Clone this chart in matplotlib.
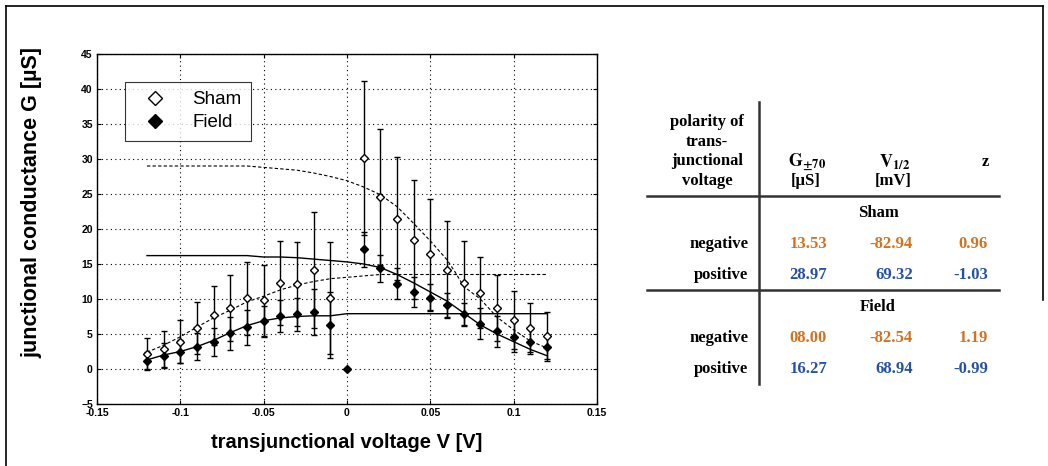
import matplotlib
matplotlib.use("Agg")
import matplotlib.pyplot as plt
from matplotlib.lines import Line2D

# measured points (transjunctional voltage in V, conductance in uS)
volts_sham = [-0.12, -0.11, -0.10, -0.09, -0.08, -0.07, -0.06, -0.05, -0.04, -0.03, -0.02, -0.01,
              0.01, 0.02, 0.03, 0.04, 0.05, 0.06, 0.07, 0.08, 0.09, 0.10, 0.11, 0.12]
g_sham = [2.1, 2.9, 3.9, 5.9, 7.7, 8.7, 10.1, 9.8, 12.3, 12.1, 14.2, 10.1,
          30.2, 24.6, 21.5, 18.5, 16.4, 14.2, 12.3, 10.9, 8.7, 7.0, 5.9, 4.7]
err_sham = [2.3, 2.6, 3.1, 3.7, 4.2, 4.7, 5.2, 5.1, 6.0, 6.0, 8.3, 8.0,
            11.0, 9.7, 8.8, 8.5, 7.9, 6.9, 6.0, 5.1, 4.7, 4.2, 3.5, 3.5]

volts_field = [-0.12, -0.11, -0.10, -0.09, -0.08, -0.07, -0.06, -0.05, -0.04, -0.03, -0.02, -0.01, 0.0,
               0.01, 0.02, 0.03, 0.04, 0.05, 0.06, 0.07, 0.08, 0.09, 0.10, 0.11, 0.12]
g_field = [1.2, 1.9, 2.5, 3.2, 3.9, 5.1, 6.0, 6.8, 7.6, 7.8, 8.2, 6.3, 0.0,
           17.1, 14.4, 12.2, 11.0, 10.2, 9.1, 7.8, 6.5, 5.4, 4.6, 3.9, 3.1]
err_field = [1.2, 1.8, 1.7, 1.9, 2.0, 2.4, 2.5, 2.2, 2.3, 2.4, 3.3, 4.7, 0.0,
             2.5, 1.9, 2.2, 2.1, 1.9, 1.7, 1.7, 2.2, 2.2, 2.2, 1.8, 1.7]

# fitted Boltzmann curves
fit_sham_neg_v = [-0.12, -0.11, -0.10, -0.09, -0.08, -0.07, -0.06, -0.05, -0.04, -0.03, -0.02, -0.01,
                  0.0, 0.01, 0.02, 0.12]
fit_sham_neg_g = [2.4, 3.4, 4.6, 6.0, 7.3, 8.4, 9.6, 10.4, 11.3, 12.0, 12.5, 12.9,
                  13.1, 13.3, 13.5, 13.5]
fit_sham_pos_v = [-0.12, -0.06, -0.05, -0.04, -0.03, -0.02, -0.01, 0.0, 0.01, 0.02, 0.03, 0.04,
                  0.05, 0.06, 0.065, 0.07, 0.08, 0.09, 0.10, 0.11, 0.12]
fit_sham_pos_g = [29.0, 29.0, 28.8, 28.6, 28.4, 28.0, 27.5, 26.9, 26.0, 24.9, 23.2, 20.8,
                  18.3, 15.6, 13.8, 11.8, 10.0, 7.4, 5.6, 4.0, 3.0]
fit_field_neg_v = [-0.12, -0.11, -0.10, -0.09, -0.08, -0.07, -0.06, -0.05, -0.04, -0.03, -0.02, -0.01,
                   0.0, 0.12]
fit_field_neg_g = [1.3, 2.0, 2.5, 3.2, 4.1, 5.2, 6.2, 6.9, 7.3, 7.5, 7.6, 7.6,
                   7.9, 7.9]
fit_field_pos_v = [-0.12, -0.06, -0.05, -0.04, -0.03, -0.02, -0.01, 0.0, 0.01, 0.02, 0.03, 0.04,
                   0.05, 0.06, 0.07, 0.08, 0.09, 0.10, 0.11, 0.12]
fit_field_pos_g = [16.2, 16.2, 16.0, 16.0, 15.9, 15.7, 15.5, 15.3, 15.0, 14.5, 13.5, 12.3,
                   11.0, 9.7, 8.0, 6.3, 5.0, 3.9, 2.8, 1.9]

# fit parameter table
table_groups = ["Sham", "Field"]
table_rows = ["negative", "positive"]
table_g = [["13.53", "28.97"], ["08.00", "16.27"]]
table_v = [["-82.94", "69.32"], ["-82.54", "68.94"]]
table_z = [["0.96", "-1.03"], ["1.19", "-0.99"]]

ORANGE = "#d4711f"
BLUE = "#2450a8"
row_colors = [ORANGE, BLUE]

plt.rcParams["font.family"] = ["Liberation Sans", "DejaVu Sans"]
plt.rcParams["mathtext.fontset"] = "stix"

W, H = 1048, 466
fig = plt.figure(figsize=(W / 100, H / 100), dpi=100)
ax = fig.add_axes([97 / W, 1 - 404 / H, 500 / W, 350 / H])

ax.plot(fit_sham_neg_v, fit_sham_neg_g, color="black", lw=0.8, ls=(0, (3, 2)))
ax.plot(fit_sham_pos_v, fit_sham_pos_g, color="black", lw=0.8, ls=(0, (3, 2)))
ax.plot(fit_field_neg_v, fit_field_neg_g, color="black", lw=1.0)
ax.plot(fit_field_pos_v, fit_field_pos_g, color="black", lw=1.0)

ax.errorbar(volts_sham, g_sham, yerr=err_sham, fmt="D", ms=3.6, mfc="white", mec="black",
            mew=1.0, ecolor="black", elinewidth=1.0, capsize=2.5, capthick=1.0, zorder=3)
ax.errorbar(volts_field, g_field, yerr=err_field, fmt="D", ms=3.6, mfc="black", mec="black",
            ecolor="black", elinewidth=1.0, capsize=2.5, capthick=1.0, zorder=3)

ax.set_xlim(-0.15, 0.15)
ax.set_ylim(-5, 45)
ax.set_xticks([-0.15, -0.1, -0.05, 0, 0.05, 0.1, 0.15])
ax.set_xticklabels(["-0.15", "-0.1", "-0.05", "0", "0.05", "0.1", "0.15"])
ax.set_yticks(range(-5, 46, 5))
ax.tick_params(direction="in", top=True, right=True, length=3, width=0.8,
               labelsize=7.5, pad=3)
for lab in ax.get_xticklabels() + ax.get_yticklabels():
    lab.set_fontweight("bold")
ax.grid(True, color="black", ls=(0, (1, 3)), lw=0.8)
for sp in ax.spines.values():
    sp.set_linewidth(1.0)

ax.set_xlabel("transjunctional voltage V [V]", fontsize=14.5, fontweight="bold", labelpad=11)
ax.set_ylabel("junctional conductance G [µS]", fontsize=15.5, fontweight="bold")
ax.yaxis.set_label_coords(-0.11, 0.577)

handles = [Line2D([], [], ls="none", marker="D", ms=7, mfc="white", mec="black"),
           Line2D([], [], ls="none", marker="D", ms=7, mfc="black", mec="black")]
leg = ax.legend(handles, ["Sham", "Field"], loc="upper left", bbox_to_anchor=(0.056, 0.92),
                fontsize=13.5, frameon=True, fancybox=False, borderpad=0.5,
                handletextpad=0.9, labelspacing=0.3, borderaxespad=0, handlelength=2.2)
leg.get_frame().set_edgecolor("black")
leg.get_frame().set_linewidth(0.8)


# table on the right, placed in pixel coordinates
def px(x, y):
    return x / W, 1 - y / H


serif = ["Liberation Serif", "DejaVu Serif"]
tkw = dict(fontsize=12, fontweight="bold", family=serif, transform=fig.transFigure)

for i, line in enumerate(["polarity of", "trans-", "junctional", "voltage"]):
    fig.text(*px(707, 122 + i * 19.7), line, ha="center", va="center", **tkw)

fig.text(*px(807, 162), r"$\mathbf{G}_{\mathbf{\pm 70}}$", ha="center", va="center",
         fontsize=13, transform=fig.transFigure)
fig.text(*px(806, 181), "[µS]", ha="center", va="center", **tkw)
fig.text(*px(895, 162), r"$\mathbf{V}_{\mathbf{1/2}}$", ha="center", va="center",
         fontsize=13, transform=fig.transFigure)
fig.text(*px(893, 181), "[mV]", ha="center", va="center", **tkw)
fig.text(*px(985, 162), "z", ha="center", va="center", **tkw)

group_y = [213, 307]
for gi, grp in enumerate(table_groups):
    fig.text(*px(878, group_y[gi]), grp, ha="center", va="center", **tkw)
    for ri, row in enumerate(table_rows):
        y = group_y[gi] + 31 * (ri + 1)
        fig.text(*px(748, y), row, ha="right", va="center", **tkw)
        fig.text(*px(827, y), table_g[gi][ri], ha="right", va="center", color=row_colors[ri], **tkw)
        fig.text(*px(913, y), table_v[gi][ri], ha="right", va="center", color=row_colors[ri], **tkw)
        fig.text(*px(988, y), table_z[gi][ri], ha="right", va="center", color=row_colors[ri], **tkw)

lkw = dict(color="#333333", lw=1.8, transform=fig.transFigure)
fig.add_artist(Line2D([759 / W, 759 / W], [1 - 102 / H, 1 - 384 / H], **lkw))
fig.add_artist(Line2D([647 / W, 999 / W], [1 - 196 / H, 1 - 196 / H], **lkw))
fig.add_artist(Line2D([647 / W, 999 / W], [1 - 290 / H, 1 - 290 / H], **lkw))

# outer frame
fkw = dict(color="black", lw=1.2, transform=fig.transFigure)
fig.add_artist(Line2D([6 / W, 6 / W], [0, 1 - 6 / H], **fkw))
fig.add_artist(Line2D([6 / W, 1043 / W], [1 - 6 / H, 1 - 6 / H], **fkw))
fig.add_artist(Line2D([1043 / W, 1043 / W], [1 - 6 / H, 1 - 300 / H], **fkw))

fig.savefig("out.png", dpi=100)
